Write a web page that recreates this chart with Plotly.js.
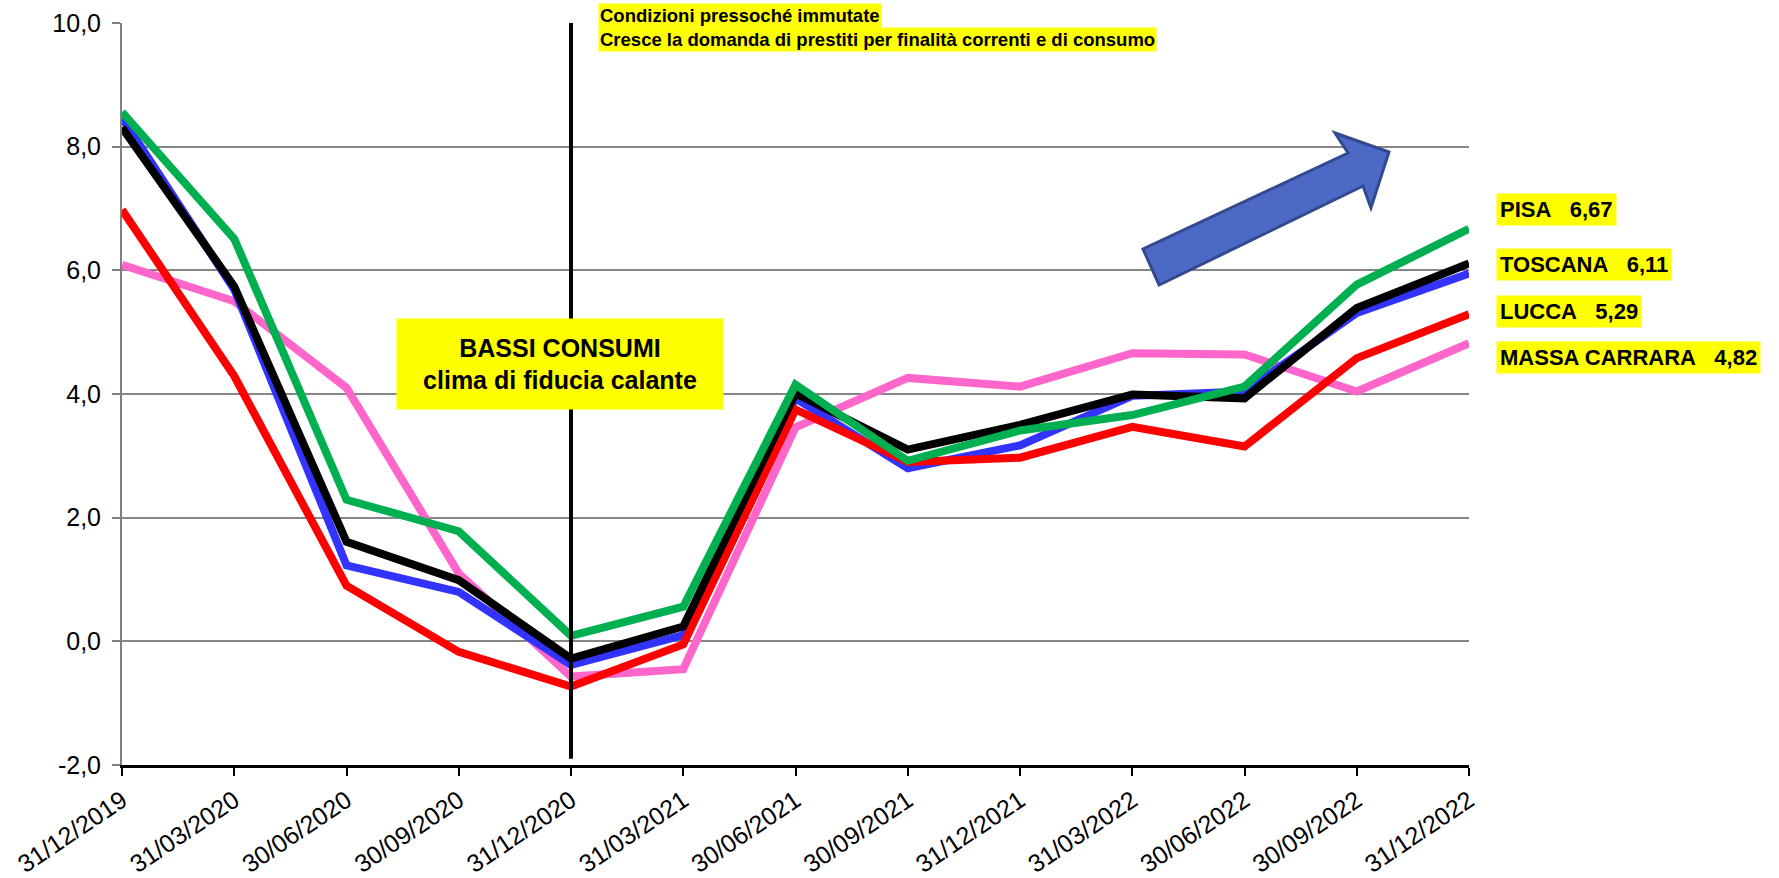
<!DOCTYPE html>
<html>
<head>
<meta charset="utf-8">
<script src="https://cdn.plot.ly/plotly-3.0.1.min.js"></script>
<style>html,body{margin:0;padding:0;background:#fff;}#chart{width:1779px;height:878px;}</style>
</head>
<body>
<div id="chart"></div>
<script>
// ---- data ----
const dates = ["31/12/2019","31/03/2020","30/06/2020","30/09/2020","31/12/2020","31/03/2021","30/06/2021","30/09/2021","31/12/2021","31/03/2022","30/06/2022","30/09/2022","31/12/2022"];
const blueSeries   = [8.47, 5.69, 1.23, 0.80, -0.38, 0.10, 3.93, 2.80, 3.17, 3.97, 4.04, 5.31, 5.95];
const toscana      = [8.31, 5.74, 1.61, 0.99, -0.28, 0.24, 4.01, 3.10, 3.50, 3.99, 3.93, 5.39, 6.11];
const pisa         = [8.56, 6.51, 2.29, 1.78, 0.09, 0.56, 4.15, 2.92, 3.41, 3.66, 4.12, 5.77, 6.67];
const lucca        = [6.98, 4.29, 0.90, -0.17, -0.73, -0.05, 3.75, 2.90, 2.97, 3.47, 3.15, 4.58, 5.29];
const massaCarrara = [6.09, 5.50, 4.10, 1.10, -0.57, -0.45, 3.46, 4.26, 4.12, 4.66, 4.64, 4.04, 4.82];
const yTicks = [-2, 0, 2, 4, 6, 8, 10];
const yTickText = yTicks.map(v => v.toFixed(1).replace('.', ','));
const seriesLabels = ["PISA\u00a0\u00a0\u00a06,67", "TOSCANA\u00a0\u00a0\u00a06,11", "LUCCA\u00a0\u00a0\u00a05,29", "MASSA CARRARA\u00a0\u00a0\u00a04,82"];
const noteTop1 = "Condizioni pressoché immutate";
const noteTop2 = "Cresce la domanda di prestiti per finalità correnti e di consumo";
const noteMid = "BASSI CONSUMI<br>clima di fiducia calante";
const markerDate = "31/12/2020";

// ---- layout helpers (pixel -> paper) ----
const W = 1779, H = 878;
const M = {l: 122, r: 310, t: 23, b: 113};
const PW = W - M.l - M.r, PH = H - M.t - M.b;
const px = X => (X - M.l) / PW;
const py = Y => (H - M.b - Y) / PH;

const FONT = "Liberation Sans, Arial, sans-serif";

function line(name, y, color) {
  return {type: 'scatter', mode: 'lines', name: name, x: dates, y: y,
          line: {color: color, width: 8, shape: 'linear'}, showlegend: false, hoverinfo: 'x+y'};
}
const traces = [
  line('MASSA CARRARA', massaCarrara, '#FF66CC'),
  line('Serie blu', blueSeries, '#3333FF'),
  line('LUCCA', lucca, '#FF0000'),
  line('TOSCANA', toscana, '#000000'),
  line('PISA', pisa, '#00B050')
];

// block arrow outline (pixels)
const arrowPts = [[1159,285],[1143,249],[1348,153],[1335,133],[1389,152],[1371,208],[1363,186]];
const arrowPath = 'M ' + arrowPts.map(p => px(p[0]).toFixed(4) + ',' + py(p[1]).toFixed(4)).join(' L ') + ' Z';

const labelY = [209.5, 264.7, 311, 357.5];
const rightLabels = seriesLabels.map((t, i) => ({
  xref: 'paper', yref: 'paper', x: px(1496), y: py(labelY[i]), xanchor: 'left', yanchor: 'middle',
  text: '<b>' + t + '</b>', showarrow: false, bgcolor: '#FFFF00', borderpad: 3,
  font: {family: FONT, size: 22, color: '#000'}
}));

const layout = {
  width: W, height: H,
  margin: M,
  paper_bgcolor: '#fff', plot_bgcolor: '#fff',
  font: {family: FONT, color: '#000'},
  showlegend: false,
  xaxis: {
    type: 'category', range: [0, dates.length - 1],
    tickangle: -34, tickfont: {family: FONT, size: 25, color: '#000'},
    ticks: 'outside', ticklen: 8, tickwidth: 2, tickcolor: '#000',
    showline: true, linecolor: '#000', linewidth: 3,
    showgrid: false, zeroline: false, fixedrange: true
  },
  yaxis: {
    range: [-2, 10], tickvals: yTicks, ticktext: yTickText,
    tickfont: {family: FONT, size: 25, color: '#000'},
    ticks: 'outside', ticklen: 8, tickwidth: 2, tickcolor: '#808080',
    ticklabelstandoff: 6,
    showline: true, linecolor: '#808080', linewidth: 2,
    showgrid: true, gridcolor: '#868686', gridwidth: 2,
    zeroline: false, fixedrange: true
  },
  shapes: [
    {type: 'line', xref: 'x', yref: 'y', x0: markerDate, x1: markerDate, y0: -1.9, y1: 10.06,
     line: {color: '#000', width: 4}},
    {type: 'path', xref: 'paper', yref: 'paper', path: arrowPath,
     fillcolor: '#4D69C6', line: {color: '#33498F', width: 3}}
  ],
  annotations: [
    {xref: 'paper', yref: 'paper', x: px(598), y: py(15), xanchor: 'left', yanchor: 'middle',
     text: '<b>' + noteTop1 + '</b>', showarrow: false, bgcolor: '#FFFF00', borderpad: 1,
     font: {family: FONT, size: 18.5, color: '#000'}},
    {xref: 'paper', yref: 'paper', x: px(598), y: py(39), xanchor: 'left', yanchor: 'middle',
     text: '<b>' + noteTop2 + '</b>', showarrow: false, bgcolor: '#FFFF00', borderpad: 1,
     font: {family: FONT, size: 18.5, color: '#000'}},
    {xref: 'paper', yref: 'paper', x: px(559.5), y: py(364.3), xanchor: 'center', yanchor: 'middle',
     text: '<b>' + noteMid + '</b>', showarrow: false, bgcolor: '#FFFF00', borderpad: 0,
     width: 326, height: 90, align: 'center',
     font: {family: FONT, size: 25, color: '#000'}}
  ].concat(rightLabels)
};

Plotly.newPlot('chart', traces, layout, {displayModeBar: false, staticPlot: true});
</script>
</body>
</html>
